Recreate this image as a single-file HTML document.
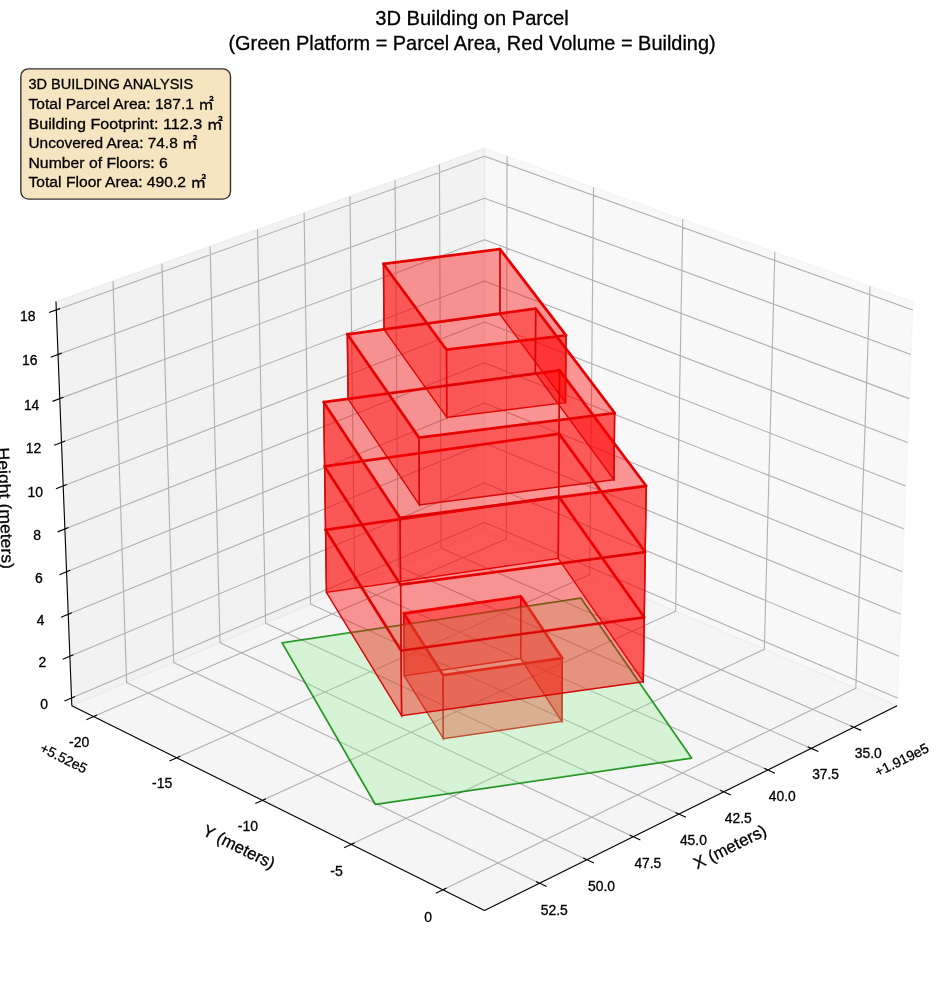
<!DOCTYPE html>
<html lang="en"><head><meta charset="utf-8"><title>3D Building on Parcel</title>
<style>html,body{margin:0;padding:0;background:#fff}svg{display:block}</style></head>
<body>
<svg width="944" height="992" viewBox="0 0 944 992">
<rect width="944" height="992" fill="#fff"/>
<g stroke-linejoin="round">
<polygon points="484.49,529.79 897.14,705.85 913.01,301.55 484.49,148.37" fill="rgb(242,242,242)" fill-opacity="0.5" stroke="rgb(242,242,242)" stroke-opacity="0.5" stroke-width="1.39"/>
<polygon points="484.49,529.79 71.83,705.85 55.96,301.55 484.49,148.37" fill="rgb(230,230,230)" fill-opacity="0.5" stroke="rgb(230,230,230)" stroke-opacity="0.5" stroke-width="1.39"/>
<polygon points="484.49,529.79 71.83,705.85 484.49,910.42 897.14,705.85" fill="rgb(236,236,236)" fill-opacity="0.5" stroke="rgb(236,236,236)" stroke-opacity="0.5" stroke-width="1.39"/>
</g>
<path d="M853.91 727.28 L441.04 548.33 L439.48 164.46 M811.24 748.44 L398.2 566.6 L395.07 180.33 M767.85 769.95 L354.69 585.17 L349.95 196.46 M723.73 791.82 L310.51 604.02 L304.09 212.85 M678.85 814.07 L265.62 623.17 L257.49 229.51 M633.21 836.69 L220.02 642.63 L210.11 246.44 M586.78 859.71 L173.69 662.39 L161.95 263.66 M539.53 883.13 L126.61 682.48 L112.98 281.17 M507.05 156.43 L506.27 539.08 L93.49 716.59 M593.53 187.35 L589.7 574.68 L176.6 757.79 M682.76 219.24 L675.69 611.37 L262.46 800.35 M774.87 252.17 L764.35 649.2 L351.19 844.34 M870 286.17 L855.82 688.22 L442.95 889.83 M71.52 698.06 L484.49 522.42 L897.45 698.06 M69.89 656.31 L484.49 482.94 L899.09 656.31 M68.23 614.22 L484.49 443.16 L900.74 614.22 M66.57 571.79 L484.49 403.09 L902.41 571.79 M64.89 529.03 L484.49 362.72 L904.08 529.03 M63.2 485.91 L484.49 322.05 L905.78 485.91 M61.49 442.45 L484.49 281.07 L907.48 442.45 M59.77 398.64 L484.49 239.78 L909.2 398.64 M58.04 354.47 L484.49 198.18 L910.94 354.47 M56.29 309.94 L484.49 156.26 L912.68 309.94" fill="none" stroke="#b0b0b0" stroke-width="1.11" stroke-linejoin="round"/>
<path d="M897.14 705.85 L484.49 910.42 M850.36 725.74 L861.03 730.37 M807.68 746.87 L818.36 751.57 M764.29 768.36 L774.98 773.14 M720.17 790.2 L730.86 795.06 M675.29 812.42 L685.99 817.36 M629.65 835.02 L640.35 840.05 M583.21 858.01 L593.92 863.12 M535.97 881.4 L546.68 886.6 M71.83 705.85 L484.49 910.42 M2756891835.84 507.51 M97.04 715.07 L86.38 719.65 M180.16 756.22 L169.48 760.95 M266.02 798.72 L255.32 803.62 M354.75 842.66 L344.05 847.71 M446.52 888.09 L435.81 893.32 M2757041673.68 507.51 M71.83 705.85 L55.96 301.55 M-9504.7 507.51 M75.07 696.55 L64.41 701.09 M73.45 654.82 L62.74 659.29 M71.81 612.75 L61.06 617.16 M70.16 570.34 L59.37 574.7 M68.5 527.59 L57.66 531.89 M66.82 484.5 L55.93 488.74 M65.13 441.07 L54.19 445.24 M63.43 397.27 L52.44 401.38 M61.71 353.12 L50.68 357.17 M59.98 308.61 L48.9 312.59 M100376.38 507.51" fill="none" stroke="#000" stroke-width="1.11"/>
<polygon points="282.22,642.87 580.91,598.22 691.47,758.04 375.38,804.3" fill="none" stroke="rgb(0,128,0)" stroke-opacity="0.9" stroke-width="1.81" stroke-linejoin="round"/>
<polygon points="403.82,613.5 520.86,596.49 562.34,658.2 443.09,675.09" fill="none" stroke="rgb(255,0,0)" stroke-width="2.78" stroke-linejoin="round"/>
<polygon points="325.54,529.78 558.68,496.51 644.25,617.26 401.1,650.6" fill="none" stroke="rgb(255,0,0)" stroke-width="2.78" stroke-linejoin="round"/>
<polygon points="324.6,466.39 559.11,433.82 645.23,552.03 400.58,584.68" fill="none" stroke="rgb(255,0,0)" stroke-width="2.78" stroke-linejoin="round"/>
<polygon points="323.65,402.24 559.55,370.4 646.23,486 400.05,517.94" fill="none" stroke="rgb(255,0,0)" stroke-width="2.78" stroke-linejoin="round"/>
<polygon points="347.31,334.3 535.68,308.64 614.68,413.02 418.99,437.64" fill="none" stroke="rgb(255,0,0)" stroke-width="2.78" stroke-linejoin="round"/>
<polygon points="383.45,263.97 499.99,249.15 566.01,335.36 446.5,349.7" fill="none" stroke="rgb(255,0,0)" stroke-width="2.78" stroke-linejoin="round"/>
<g stroke-width="1.39" stroke-linejoin="miter">
<polygon points="404.29,675.83 520.65,658.49 520.86,596.49 403.82,613.5" fill="rgb(255,0,0)" fill-opacity="0.4" stroke="rgb(212,8,8)" stroke-opacity="1"/>
<polygon points="520.65,658.49 561.88,721.4 562.34,658.2 520.86,596.49" fill="rgb(255,0,0)" fill-opacity="0.4" stroke="rgb(212,8,8)" stroke-opacity="1"/>
<polygon points="443.34,738.61 404.29,675.83 403.82,613.5 443.09,675.09" fill="rgb(255,0,0)" fill-opacity="0.4" stroke="rgb(212,8,8)" stroke-opacity="1"/>
<polygon points="561.88,721.4 443.34,738.61 443.09,675.09 562.34,658.2" fill="rgb(255,0,0)" fill-opacity="0.4" stroke="rgb(212,8,8)" stroke-opacity="1"/>
</g>
<g stroke-width="0" stroke-linejoin="miter">
<polygon points="282.22,642.87 580.91,598.22 691.47,758.04 375.38,804.3" fill="rgb(144,238,144)" fill-opacity="0.3"/>
</g>
<g stroke-width="1.39" stroke-linejoin="miter">
<polygon points="326.47,592.43 558.25,558.47 558.68,496.51 325.54,529.78" fill="rgb(255,0,0)" fill-opacity="0.4" stroke="rgb(212,8,8)" stroke-opacity="1"/>
<polygon points="558.25,558.47 643.28,681.69 644.25,617.26 558.68,496.51" fill="rgb(255,0,0)" fill-opacity="0.4" stroke="rgb(212,8,8)" stroke-opacity="1"/>
<polygon points="401.61,715.7 326.47,592.43 325.54,529.78 401.1,650.6" fill="rgb(255,0,0)" fill-opacity="0.4" stroke="rgb(212,8,8)" stroke-opacity="1"/>
<polygon points="643.28,681.69 401.61,715.7 401.1,650.6 644.25,617.26" fill="rgb(255,0,0)" fill-opacity="0.4" stroke="rgb(212,8,8)" stroke-opacity="1"/>
</g>
<g stroke-width="1.39" stroke-linejoin="miter">
<polygon points="325.54,529.78 558.68,496.51 559.11,433.82 324.6,466.39" fill="rgb(255,0,0)" fill-opacity="0.4" stroke="rgb(212,8,8)" stroke-opacity="1"/>
<polygon points="558.68,496.51 644.25,617.26 645.23,552.03 559.11,433.82" fill="rgb(255,0,0)" fill-opacity="0.4" stroke="rgb(212,8,8)" stroke-opacity="1"/>
<polygon points="401.1,650.6 325.54,529.78 324.6,466.39 400.58,584.68" fill="rgb(255,0,0)" fill-opacity="0.4" stroke="rgb(212,8,8)" stroke-opacity="1"/>
<polygon points="644.25,617.26 401.1,650.6 400.58,584.68 645.23,552.03" fill="rgb(255,0,0)" fill-opacity="0.4" stroke="rgb(212,8,8)" stroke-opacity="1"/>
</g>
<g stroke-width="1.39" stroke-linejoin="miter">
<polygon points="384.05,329.48 499.9,314.28 499.99,249.15 383.45,263.97" fill="rgb(255,0,0)" fill-opacity="0.4" stroke="rgb(212,8,8)" stroke-opacity="1"/>
<polygon points="499.9,314.28 565.51,402.66 566.01,335.36 499.99,249.15" fill="rgb(255,0,0)" fill-opacity="0.4" stroke="rgb(212,8,8)" stroke-opacity="1"/>
<polygon points="446.74,417.35 384.05,329.48 383.45,263.97 446.5,349.7" fill="rgb(255,0,0)" fill-opacity="0.4" stroke="rgb(212,8,8)" stroke-opacity="1"/>
<polygon points="565.51,402.66 446.74,417.35 446.5,349.7 566.01,335.36" fill="rgb(255,0,0)" fill-opacity="0.4" stroke="rgb(212,8,8)" stroke-opacity="1"/>
</g>
<g stroke-width="1.39" stroke-linejoin="miter">
<polygon points="324.6,466.39 559.11,433.82 559.55,370.4 323.65,402.24" fill="rgb(255,0,0)" fill-opacity="0.4" stroke="rgb(212,8,8)" stroke-opacity="1"/>
<polygon points="559.11,433.82 645.23,552.03 646.23,486 559.55,370.4" fill="rgb(255,0,0)" fill-opacity="0.4" stroke="rgb(212,8,8)" stroke-opacity="1"/>
<polygon points="400.58,584.68 324.6,466.39 323.65,402.24 400.05,517.94" fill="rgb(255,0,0)" fill-opacity="0.4" stroke="rgb(212,8,8)" stroke-opacity="1"/>
<polygon points="645.23,552.03 400.58,584.68 400.05,517.94 646.23,486" fill="rgb(255,0,0)" fill-opacity="0.4" stroke="rgb(212,8,8)" stroke-opacity="1"/>
</g>
<g stroke-width="1.39" stroke-linejoin="miter">
<polygon points="348.13,399.15 535.38,372.87 535.68,308.64 347.31,334.3" fill="rgb(255,0,0)" fill-opacity="0.4" stroke="rgb(212,8,8)" stroke-opacity="1"/>
<polygon points="535.38,372.87 613.88,479.73 614.68,413.02 535.68,308.64" fill="rgb(255,0,0)" fill-opacity="0.4" stroke="rgb(212,8,8)" stroke-opacity="1"/>
<polygon points="419.4,504.94 348.13,399.15 347.31,334.3 418.99,437.64" fill="rgb(255,0,0)" fill-opacity="0.4" stroke="rgb(212,8,8)" stroke-opacity="1"/>
<polygon points="613.88,479.73 419.4,504.94 418.99,437.64 614.68,413.02" fill="rgb(255,0,0)" fill-opacity="0.4" stroke="rgb(212,8,8)" stroke-opacity="1"/>
</g>
<rect x="20.84" y="68.84" width="209.65" height="130.28" rx="7.64" ry="7.64" fill="rgb(245,222,179)" fill-opacity="0.8" stroke="#000" stroke-opacity="0.8" stroke-width="1.39"/>
<g font-family='"Liberation Sans","Noto Sans CJK JP",sans-serif' text-anchor="middle" fill="#000" stroke="#000" stroke-width="0.3">
<text x="868.21" y="757.7" font-size="13.89" textLength="27" lengthAdjust="spacingAndGlyphs">35.0</text>
<text x="825.6" y="779.04" font-size="13.89" textLength="26.88" lengthAdjust="spacingAndGlyphs">37.5</text>
<text x="782.28" y="800.75" font-size="13.89" textLength="27" lengthAdjust="spacingAndGlyphs">40.0</text>
<text x="738.22" y="822.81" font-size="13.89" textLength="27" lengthAdjust="spacingAndGlyphs">42.5</text>
<text x="693.41" y="845.26" font-size="13.89" textLength="27" lengthAdjust="spacingAndGlyphs">45.0</text>
<text x="647.83" y="868.09" font-size="13.89" textLength="26.88" lengthAdjust="spacingAndGlyphs">47.5</text>
<text x="601.46" y="891.32" font-size="13.89" textLength="27.12" lengthAdjust="spacingAndGlyphs">50.0</text>
<text x="554.28" y="914.95" font-size="13.89" textLength="27.12" lengthAdjust="spacingAndGlyphs">52.5</text>
<text x="732.47" y="851.96" font-size="16.67" textLength="79" lengthAdjust="spacingAndGlyphs" transform="rotate(-26.37 732.47 851.96)">X (meters)</text>
<text x="903.87" y="764.2" font-size="13.89" textLength="58.12" lengthAdjust="spacingAndGlyphs" transform="rotate(-26.37 903.87 764.2)">+1.919e5</text>
<text x="79.23" y="746.92" font-size="13.89" textLength="20.25" lengthAdjust="spacingAndGlyphs">-20</text>
<text x="162.21" y="788.48" font-size="13.89" textLength="20.25" lengthAdjust="spacingAndGlyphs">-15</text>
<text x="247.94" y="831.42" font-size="13.89" textLength="20.25" lengthAdjust="spacingAndGlyphs">-10</text>
<text x="336.55" y="875.81" font-size="13.89" textLength="12.5" lengthAdjust="spacingAndGlyphs">-5</text>
<text x="428.18" y="921.71" font-size="13.89" textLength="7.75" lengthAdjust="spacingAndGlyphs">0</text>
<text x="236.51" y="851.96" font-size="16.67" textLength="78.38" lengthAdjust="spacingAndGlyphs" transform="rotate(-333.63 236.51 851.96)">Y (meters)</text>
<text x="61.64" y="762.48" font-size="13.89" textLength="50.38" lengthAdjust="spacingAndGlyphs" transform="rotate(-333.63 61.64 762.48)">+5.52e5</text>
<text x="44.11" y="709.06" font-size="13.89" textLength="7.75" lengthAdjust="spacingAndGlyphs">0</text>
<text x="42.36" y="667.31" font-size="13.89" textLength="7.75" lengthAdjust="spacingAndGlyphs">2</text>
<text x="40.6" y="625.22" font-size="13.89" textLength="7.62" lengthAdjust="spacingAndGlyphs">4</text>
<text x="38.83" y="582.79" font-size="13.89" textLength="7.75" lengthAdjust="spacingAndGlyphs">6</text>
<text x="37.04" y="540.03" font-size="13.89" textLength="7.75" lengthAdjust="spacingAndGlyphs">8</text>
<text x="35.23" y="496.91" font-size="13.89" textLength="15.5" lengthAdjust="spacingAndGlyphs">10</text>
<text x="33.41" y="453.45" font-size="13.89" textLength="15.5" lengthAdjust="spacingAndGlyphs">12</text>
<text x="31.58" y="409.64" font-size="13.89" textLength="15.38" lengthAdjust="spacingAndGlyphs">14</text>
<text x="29.73" y="365.47" font-size="13.89" textLength="15.5" lengthAdjust="spacingAndGlyphs">16</text>
<text x="27.87" y="320.94" font-size="13.89" textLength="15.5" lengthAdjust="spacingAndGlyphs">18</text>
<text x="-0.23" y="508.49" font-size="16.67" textLength="121.38" lengthAdjust="spacingAndGlyphs" transform="rotate(-272.25 -0.23 508.49)">Height (meters)</text>
<text x="472" y="25.28" font-size="19.44" textLength="193.5" lengthAdjust="spacingAndGlyphs">3D Building on Parcel</text>
<text x="472" y="49.67" font-size="19.44" textLength="487.25" lengthAdjust="spacingAndGlyphs">(Green Platform = Parcel Area, Red Volume = Building)</text>
<text x="110.79" y="89.48" font-size="15.28" textLength="164.62" lengthAdjust="spacingAndGlyphs">3D BUILDING ANALYSIS</text>
<text x="121.17" y="109.08" font-size="15.28" textLength="185.38" lengthAdjust="spacingAndGlyphs">Total Parcel Area: 187.1 ㎡</text>
<text x="125.67" y="128.68" font-size="15.28" textLength="194.38" lengthAdjust="spacingAndGlyphs">Building Footprint: 112.3 ㎡</text>
<text x="112.98" y="148.28" font-size="15.28" textLength="169" lengthAdjust="spacingAndGlyphs">Uncovered Area: 74.8 ㎡</text>
<text x="98.17" y="167.88" font-size="15.28" textLength="139.38" lengthAdjust="spacingAndGlyphs">Number of Floors: 6</text>
<text x="117.29" y="187.48" font-size="15.28" textLength="177.62" lengthAdjust="spacingAndGlyphs">Total Floor Area: 490.2 ㎡</text>
</g>
</svg>
</body></html>
